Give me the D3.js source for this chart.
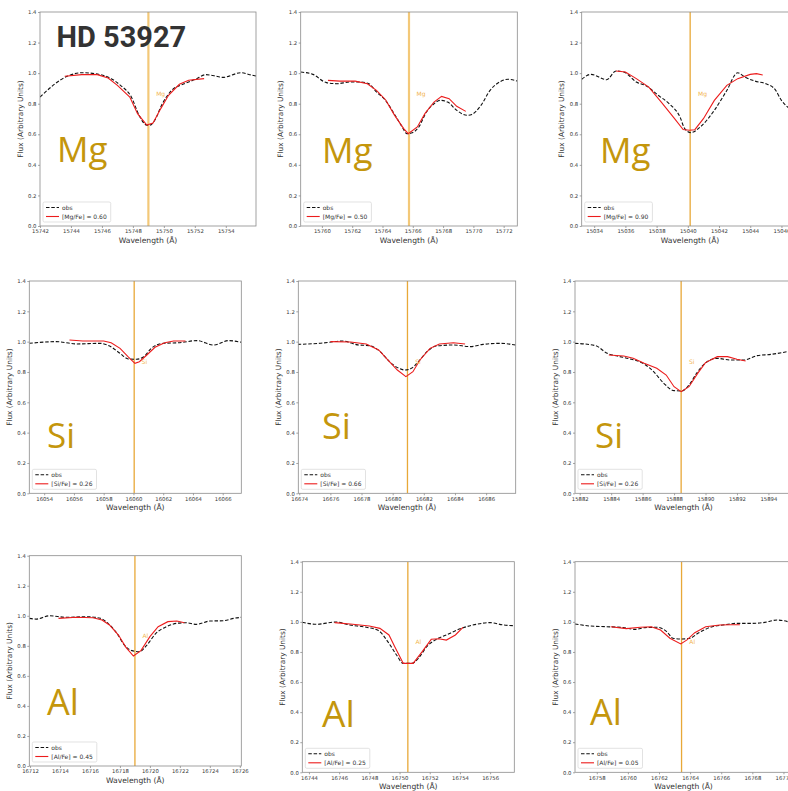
<!DOCTYPE html>
<html>
<head>
<meta charset="utf-8">
<script src="https://cdn.jsdelivr.net/npm/d3@7"></script>
<style>
body { margin: 0; background: #fff; }
svg { display: block; }
</style>
</head>
<body>
<script>
var starName = 'HD 53927';
var elements = ['Mg', 'Mg', 'Mg', 'Si', 'Si', 'Si', 'Al', 'Al', 'Al'];
var abundances = ['[Mg/Fe] = 0.60', '[Mg/Fe] = 0.50', '[Mg/Fe] = 0.90',
                  '[Si/Fe] = 0.26', '[Si/Fe] = 0.66', '[Si/Fe] = 0.26',
                  '[Al/Fe] = 0.45', '[Al/Fe] = 0.25', '[Al/Fe] = 0.05'];
var lineCenters = [15749.0, 15765.75, 15040.15, 16060.05, 16680.95, 15888.45, 16719.0, 16750.55, 16763.45];
var firstTicks = [15742, 15760, 15034, 16054, 16674, 15882, 16712, 16744, 16758];
var yTicks = [0, 0.2, 0.4, 0.6, 0.8, 1.0, 1.2, 1.4];

// observed spectra (wavelength, flux)
var obsMg1 = [[15742.0,0.844],[15743.75,0.979],[15744.7,1.003],[15745.9,0.99],[15746.6,0.964],[15747.2,0.92],[15747.9,0.844],[15748.4,0.724],[15748.9,0.66],[15749.1,0.66],[15749.4,0.69],[15749.9,0.80],[15750.5,0.887],[15751.3,0.93],[15752.05,0.96],[15752.7,0.99],[15753.4,0.98],[15753.8,0.972],[15755.0,1.003],[15755.55,0.99],[15756.2,0.975]];
var obsMg2 = [[15758.6,1.007],[15759.4,0.992],[15760.3,0.938],[15761.0,0.931],[15761.85,0.942],[15762.5,0.942],[15763.1,0.931],[15763.6,0.877],[15764.2,0.822],[15764.7,0.746],[15765.3,0.648],[15765.6,0.604],[15765.9,0.608],[15766.4,0.648],[15766.9,0.746],[15767.4,0.80],[15767.8,0.822],[15768.3,0.811],[15768.9,0.757],[15769.6,0.724],[15769.9,0.73],[15770.5,0.789],[15771.1,0.887],[15771.8,0.946],[15772.3,0.96],[15772.9,0.948]];
var obsMg3 = [[15033.2,0.96],[15033.8,0.992],[15034.8,0.957],[15035.4,1.014],[15035.9,1.007],[15036.7,0.942],[15037.35,0.916],[15038.1,0.855],[15038.85,0.796],[15039.5,0.713],[15039.8,0.637],[15040.2,0.611],[15040.8,0.648],[15041.7,0.757],[15042.5,0.887],[15043.2,1.003],[15043.65,0.975],[15044.3,0.948],[15045.0,0.931],[15045.6,0.892],[15046.0,0.822],[15046.4,0.778],[15047.1,0.74]];
var obsSi1 = [[16053.0,0.989],[16054.8,1.0],[16056.2,0.985],[16057.75,0.989],[16058.4,0.971],[16059.1,0.923],[16059.65,0.886],[16060.2,0.884],[16060.7,0.90],[16061.2,0.956],[16062.0,0.989],[16063.1,0.993],[16064.25,1.007],[16065.4,0.978],[16066.4,1.007],[16067.25,0.996]];
var obsSi2 = [[16673.9,0.982],[16675.3,0.989],[16676.8,1.004],[16677.8,0.978],[16678.5,0.974],[16679.2,0.934],[16679.8,0.868],[16680.4,0.824],[16680.8,0.813],[16681.2,0.824],[16681.65,0.868],[16682.2,0.934],[16682.8,0.971],[16683.9,0.978],[16685.0,0.967],[16685.8,0.982],[16686.9,0.989],[16687.9,0.978]];
var obsSi3 = [[15881.7,0.989],[15883.0,0.974],[15883.75,0.923],[15884.4,0.905],[15885.2,0.886],[15886.1,0.853],[15886.7,0.802],[15887.35,0.725],[15888.0,0.677],[15888.5,0.675],[15888.95,0.714],[15889.5,0.802],[15890.1,0.868],[15890.75,0.89],[15891.6,0.879],[15892.45,0.879],[15893.3,0.908],[15894.15,0.916],[15895.5,0.94]];
var obsAl1 = [[16711.95,0.983],[16712.4,0.978],[16713.3,1.0],[16714.4,0.99],[16715.8,0.994],[16716.7,0.983],[16717.2,0.95],[16717.8,0.883],[16718.3,0.805],[16718.8,0.768],[16719.3,0.761],[16719.8,0.805],[16720.4,0.883],[16721.1,0.927],[16721.8,0.95],[16722.4,0.954],[16723.1,0.943],[16724.0,0.965],[16724.9,0.967],[16725.6,0.983],[16726.1,0.99]];
var obsAl2 = [[16743.56,0.997],[16744.5,0.984],[16745.8,0.999],[16746.7,0.979],[16747.8,0.964],[16748.6,0.942],[16749.3,0.857],[16749.8,0.78],[16750.25,0.724],[16750.8,0.724],[16751.25,0.758],[16751.8,0.835],[16752.35,0.879],[16753.1,0.913],[16754.1,0.957],[16755.1,0.984],[16756.0,0.995],[16756.9,0.979],[16757.6,0.975]];
var obsAl3 = [[16756.6,0.986],[16757.5,0.973],[16758.6,0.968],[16759.7,0.962],[16760.5,0.95],[16761.1,0.962],[16761.9,0.964],[16762.5,0.935],[16762.9,0.891],[16763.5,0.886],[16764.0,0.891],[16764.5,0.924],[16765.3,0.964],[16766.1,0.979],[16767.0,0.99],[16767.9,0.99],[16768.7,0.995],[16769.6,1.012],[16770.0,1.008],[16770.6,0.99]];

// synthetic fits (wavelength, flux)
var modMg1 = [[15743.6,0.98],[15744.7,0.99],[15745.7,0.99],[15746.4,0.968],[15747.0,0.92],[15747.8,0.844],[15748.3,0.735],[15748.9,0.66],[15749.3,0.674],[15749.8,0.768],[15750.3,0.855],[15751.0,0.927],[15751.6,0.953],[15752.6,0.964]];
var modMg2 = [[15760.4,0.953],[15761.2,0.948],[15762.2,0.948],[15763.0,0.931],[15763.6,0.887],[15764.2,0.826],[15764.8,0.724],[15765.4,0.637],[15765.7,0.604],[15766.3,0.648],[15766.8,0.735],[15767.4,0.811],[15767.9,0.848],[15768.4,0.833],[15768.9,0.783],[15769.5,0.75]];
var modMg3 = [[15035.4,1.014],[15036.0,1.007],[15036.7,0.964],[15037.5,0.909],[15038.3,0.811],[15039.1,0.709],[15039.7,0.631],[15040.1,0.626],[15040.45,0.63],[15041.0,0.702],[15041.7,0.822],[15042.5,0.92],[15043.2,0.964],[15044.0,0.992],[15044.4,0.997],[15044.8,0.988]];
var modSi1 = [[16055.7,1.011],[16056.6,1.004],[16058.0,1.004],[16058.5,0.993],[16059.1,0.956],[16059.65,0.90],[16060.1,0.857],[16060.4,0.868],[16060.9,0.912],[16061.45,0.963],[16062.1,0.993],[16062.7,1.004],[16063.5,1.004]];
var modSi2 = [[16676.0,1.0],[16677.3,0.998],[16678.3,0.985],[16679.1,0.945],[16679.7,0.879],[16680.3,0.813],[16680.85,0.769],[16681.3,0.802],[16681.75,0.879],[16682.4,0.956],[16683.0,0.985],[16683.9,0.993],[16684.65,0.985]];
var modSi3 = [[15883.85,0.912],[15884.8,0.905],[15885.4,0.89],[15886.1,0.857],[15886.9,0.824],[15887.5,0.78],[15888.0,0.703],[15888.45,0.67],[15888.95,0.703],[15889.5,0.791],[15890.0,0.862],[15890.75,0.901],[15891.4,0.901],[15892.0,0.884],[15892.55,0.873]];
var modAl1 = [[16713.9,0.983],[16715.1,0.99],[16716.2,0.987],[16716.8,0.972],[16717.3,0.939],[16717.9,0.872],[16718.4,0.79],[16718.9,0.732],[16719.4,0.768],[16720.0,0.861],[16720.55,0.927],[16721.2,0.961],[16721.8,0.965],[16722.3,0.954]];
var modAl2 = [[16745.7,0.995],[16746.9,0.984],[16748.0,0.973],[16748.7,0.957],[16749.3,0.913],[16749.7,0.831],[16750.25,0.724],[16750.9,0.724],[16751.5,0.802],[16752.1,0.884],[16752.6,0.888],[16753.1,0.879],[16753.7,0.913],[16754.2,0.964]];
var modAl3 = [[16758.9,0.968],[16759.9,0.955],[16760.8,0.964],[16761.5,0.968],[16762.1,0.946],[16762.7,0.891],[16763.4,0.853],[16763.8,0.88],[16764.3,0.928],[16765.0,0.968],[16765.9,0.979],[16766.6,0.981],[16767.2,0.981]];

var obsData = [obsMg1, obsMg2, obsMg3, obsSi1, obsSi2, obsSi3, obsAl1, obsAl2, obsAl3];
var modelData = [modMg1, modMg2, modMg3, modSi1, modSi2, modSi3, modAl1, modAl2, modAl3];

// each panel was a separate figure, so every box is a bit different
var panels = [
    {l:40,    r:256,   t:12,    b:226,   x0:15742,    x1:15755.95, bx:57,  by:162, bs:35, thick:true},
    {l:300.7, r:517.3, t:12,    b:226,   x0:15758.6,  x1:15772.9,  bx:322, by:163, bs:35, thick:true},
    {l:581.7, r:798.3, t:12,    b:226,   x0:15033.2,  x1:15047.08, bx:600, by:163, bs:35, thick:false},
    {l:29.3,  r:241.3, t:281,   b:493.3, x0:16053.0,  x1:16067.25, bx:47,  by:448, bs:35, thick:false},
    {l:298.3, r:515.7, t:281,   b:493.3, x0:16673.94, x1:16687.9,  bx:322, by:439, bs:36, thick:false},
    {l:575,   r:792,   t:281,   b:493.3, x0:15881.7,  x1:15895.5,  bx:595, by:448, bs:35, thick:false},
    {l:29.3,  r:241.3, t:555.7, b:766,   x0:16711.95, x1:16726.1,  bx:47,  by:715, bs:36, thick:false},
    {l:302.3, r:514.3, t:561.7, b:772.3, x0:16743.56, x1:16757.6,  bx:322, by:727, bs:37, thick:false},
    {l:575,   r:792,   t:561.7, b:772.3, x0:16756.6,  x1:16770.55, bx:590, by:725, bs:36, thick:false}
];

var W = 788, H = 791;
var svg = d3.select('body').append('svg')
    .attr('width', W).attr('height', H)
    .style('font-family', '"DejaVu Sans", sans-serif');

function drawPanel(p, i){
    var x = d3.scaleLinear().domain([p.x0, p.x1]).range([p.l, p.r]);
    var y = d3.scaleLinear().domain([0, 1.4]).range([p.b, p.t]);
    var g = svg.append('g');

    g.append('clipPath').attr('id', 'clip' + i)
        .append('rect').attr('x', p.l).attr('y', p.t)
        .attr('width', p.r - p.l).attr('height', p.b - p.t);

    var xAxis = d3.axisBottom(x)
        .tickValues(d3.range(firstTicks[i], p.x1, 2))
        .tickFormat(d3.format('d'))
        .tickSize(2).tickPadding(1.5);
    var yAxis = d3.axisLeft(y)
        .tickValues(yTicks)
        .tickFormat(d3.format('.1f'))
        .tickSize(2).tickPadding(1.5);

    var ax = g.append('g').attr('transform', 'translate(0,' + p.b + ')').call(xAxis);
    var ay = g.append('g').attr('transform', 'translate(' + p.l + ',0)').call(yAxis);
    [ax, ay].forEach(function(a){
        a.select('.domain').remove();
        a.selectAll('line').attr('stroke', '#666').attr('stroke-width', 0.6);
        a.selectAll('text').attr('fill', '#333').style('font-size', '5.3px')
            .style('font-family', '"DejaVu Sans", sans-serif');
    });

    g.append('text')
        .attr('x', (p.l + p.r) / 2).attr('y', p.b + 17)
        .attr('text-anchor', 'middle').attr('fill', '#333')
        .style('font-size', '7.6px')
        .text('Wavelength (Å)');
    g.append('text')
        .attr('transform', 'translate(' + (p.l - 17.5) + ',' + ((p.t + p.b) / 2) + ') rotate(-90)')
        .attr('text-anchor', 'middle').attr('fill', '#333')
        .style('font-size', '7.4px')
        .text('Flux (Arbitrary Units)');

    var plot = g.append('g').attr('clip-path', 'url(#clip' + i + ')');

    // line position marker
    plot.append('line')
        .attr('x1', x(lineCenters[i])).attr('x2', x(lineCenters[i]))
        .attr('y1', p.t).attr('y2', p.b)
        .attr('stroke', p.thick ? '#f3c878' : '#e8a838')
        .attr('stroke-width', p.thick ? 2.2 : 1.3);

    var obsLine = d3.line()
        .x(function(d){ return x(d[0]); })
        .y(function(d){ return y(d[1]); })
        .curve(d3.curveMonotoneX);
    var modLine = d3.line()
        .x(function(d){ return x(d[0]); })
        .y(function(d){ return y(d[1]); });

    plot.append('path').datum(obsData[i])
        .attr('d', obsLine).attr('fill', 'none')
        .attr('stroke', '#111').attr('stroke-width', 1.1)
        .attr('stroke-dasharray', '3.5,1.8');
    plot.append('path').datum(modelData[i])
        .attr('d', modLine).attr('fill', 'none')
        .attr('stroke', '#ec1c1c').attr('stroke-width', 1.1);

    plot.append('text')
        .attr('x', x(lineCenters[i] + 0.5)).attr('y', y(0.85))
        .attr('fill', '#f2b552').style('font-size', '6px')
        .text(elements[i]);

    // frame
    g.append('rect')
        .attr('x', p.l).attr('y', p.t)
        .attr('width', p.r - p.l).attr('height', p.b - p.t)
        .attr('fill', 'none').attr('stroke', '#8a8a8a').attr('stroke-width', 0.8);

    // legend
    var lg = g.append('g').attr('transform', 'translate(' + (p.l + 3) + ',' + (p.b - 24) + ')');
    var box = lg.append('rect').attr('rx', 1.5).attr('height', 20)
        .attr('fill', '#fff').attr('fill-opacity', 0.85)
        .attr('stroke', '#d6d6d6').attr('stroke-width', 0.7);
    lg.append('line').attr('x1', 3).attr('x2', 16).attr('y1', 5.5).attr('y2', 5.5)
        .attr('stroke', '#111').attr('stroke-width', 1.1).attr('stroke-dasharray', '3.5,1.8');
    lg.append('line').attr('x1', 3).attr('x2', 16).attr('y1', 14.5).attr('y2', 14.5)
        .attr('stroke', '#ec1c1c').attr('stroke-width', 1.1);
    lg.append('text').attr('x', 19).attr('y', 7.6).attr('fill', '#333')
        .style('font-size', '6px').text('obs');
    var t2 = lg.append('text').attr('x', 19).attr('y', 16.6).attr('fill', '#333')
        .style('font-size', '6px').text(abundances[i]);
    box.attr('width', 19 + t2.node().getComputedTextLength() + 4);

    // big element name
    g.append('text')
        .attr('x', p.bx).attr('y', p.by)
        .attr('fill', '#c4960c')
        .style('font-family', '"Open Sans", "Noto Sans", sans-serif')
        .style('font-size', p.bs + 'px')
        .text(elements[i]);
}

panels.forEach(drawPanel);

svg.append('text')
    .attr('x', 56.5).attr('y', 47.3)
    .attr('fill', '#333')
    .style('font-family', 'Roboto, sans-serif')
    .style('font-weight', 700)
    .style('font-size', '29px')
    .text(starName);
</script>
</body>
</html>
